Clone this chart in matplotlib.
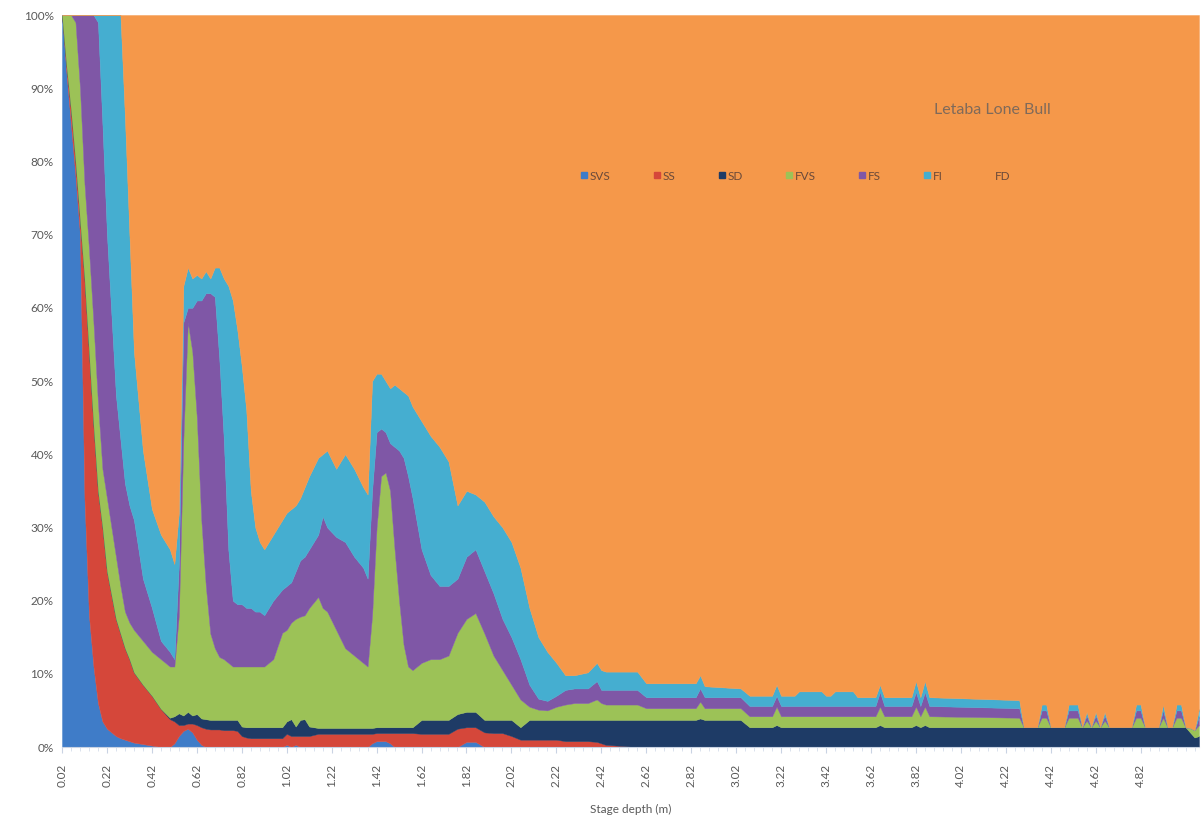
import matplotlib
matplotlib.use("Agg")
import matplotlib.pyplot as plt
from matplotlib.lines import Line2D
import numpy as np

plt.rcParams['font.family'] = ['Lato', 'DejaVu Sans']

# stage depth (m) of each sample
depth = [
    0.02, 0.04, 0.06, 0.08, 0.10, 0.12, 0.14, 0.16, 0.18, 0.20, 0.22, 0.26, 0.28, 0.30, 0.32, 0.34, 0.38, 0.42, 0.46, 0.50, 0.52,
    0.54, 0.56, 0.58, 0.60, 0.62, 0.64, 0.66, 0.68, 0.70, 0.72, 0.74, 0.76, 0.78, 0.80, 0.82, 0.84, 0.86, 0.88, 0.90, 0.92,
    0.96, 1.00, 1.02, 1.04, 1.06, 1.08, 1.10, 1.12, 1.16, 1.18, 1.20, 1.24, 1.28, 1.32, 1.36, 1.38,
    1.40, 1.42, 1.44, 1.46, 1.48, 1.50, 1.52, 1.54, 1.56, 1.58, 1.62, 1.66, 1.70, 1.74, 1.78, 1.82, 1.86, 1.90, 1.94, 1.98,
    2.02, 2.06, 2.10, 2.14, 2.18, 2.22, 2.26, 2.30, 2.36, 2.40, 2.42,
    2.44, 2.58, 2.62, 2.84, 2.86, 2.88, 3.04, 3.08, 3.18, 3.20, 3.22, 3.28, 3.30, 3.40, 3.42, 3.44, 3.46, 3.54, 3.56, 3.64,
    3.66, 3.68, 3.80, 3.82, 3.84, 3.86, 3.88, 4.28, 4.30, 4.36, 4.38, 4.40, 4.42, 4.48, 4.50, 4.52, 4.54, 4.56, 4.58, 4.60,
    4.62, 4.64, 4.66, 4.68, 4.78, 4.80, 4.82, 4.84, 4.90, 4.92, 4.94, 4.96, 4.98, 5.00, 5.02, 5.04, 5.06, 5.08,
]

svs = [
    100, 92, 85, 78, 70, 34, 18, 11, 6, 3.5, 2.5, 1.5, 1.2, 1, 0.8, 0.6, 0.4, 0.2, 0, 0, 0.5,
    1.5, 2.2, 2.5, 2, 1, 0.3, 0, 0, 0, 0, 0, 0, 0, 0, 0, 0, 0, 0, 0, 0,
    0, 0, 0.3, 0, 0.3, 0, 0, 0, 0, 0, 0, 0, 0, 0, 0, 0,
    0.5, 0.8, 0.8, 0.8, 0.5, 0, 0, 0, 0, 0, 0, 0, 0, 0, 0, 0.7, 0.7, 0, 0, 0,
    0, 0, 0, 0, 0, 0, 0, 0, 0, 0, 0,
    0, 0, 0, 0, 0, 0, 0, 0, 0, 0, 0, 0, 0, 0, 0, 0, 0, 0, 0, 0,
    0, 0, 0, 0, 0, 0, 0, 0, 0, 0, 0, 0, 0, 0, 0, 0, 0, 0, 0, 0,
    0, 0, 0, 0, 0, 0, 0, 0, 0, 0, 0, 0, 0, 0, 0, 0, 0, 0,
]

ss = [
    0, 1, 2, 2, 2, 30, 36, 33, 29, 26.5, 21.5, 16, 14.3, 12.5, 11.2, 9.6, 8.1, 6.8, 5.2, 3.8, 3,
    1.5, 0.8, 0.7, 1.2, 2, 2.4, 2.5, 2.4, 2.4, 2.4, 2.3, 2.3, 2.3, 2.2, 1.5, 1.3, 1.2, 1.2, 1.2, 1.2,
    1.2, 1.2, 1.5, 1.5, 1.2, 1.5, 1.5, 1.5, 1.8, 1.8, 1.8, 1.8, 1.8, 1.8, 1.8, 1.8,
    1.3, 1.1, 1.1, 1.1, 1.4, 1.9, 1.9, 1.9, 1.9, 1.9, 1.8, 1.8, 1.8, 1.8, 2.5, 2, 2, 2, 1.9, 1.9,
    1.5, 1, 1, 1, 1, 1, 0.8, 0.8, 0.8, 0.7, 0.5,
    0.3, 0, 0, 0, 0, 0, 0, 0, 0, 0, 0, 0, 0, 0, 0, 0, 0, 0, 0, 0,
    0, 0, 0, 0, 0, 0, 0, 0, 0, 0, 0, 0, 0, 0, 0, 0, 0, 0, 0, 0,
    0, 0, 0, 0, 0, 0, 0, 0, 0, 0, 0, 0, 0, 0, 0, 0, 0, 0,
]

sd = [
    0, 0, 0, 0, 0, 0, 0, 0, 0, 0, 0, 0, 0, 0, 0, 0, 0, 0, 0, 0.2, 0.7,
    1.6, 1.3, 1.6, 1.1, 1.5, 1.2, 1.3, 1.3, 1.3, 1.3, 1.4, 1.4, 1.4, 1.5, 1.3, 1.4, 1.5, 1.5, 1.5, 1.5,
    1.5, 1.5, 1.7, 2.3, 1.3, 2.2, 2.3, 1.3, 0.8, 0.8, 0.8, 0.8, 0.8, 0.8, 0.8, 0.8,
    0.8, 0.8, 0.8, 0.8, 0.8, 0.8, 0.8, 0.8, 0.8, 0.8, 1.9, 1.9, 1.9, 1.9, 2, 2.1, 2.1, 1.7, 1.8, 1.8,
    2.2, 1.7, 2.7, 2.7, 2.7, 2.7, 2.9, 2.9, 2.9, 3, 3.2,
    3.4, 3.7, 3.7, 3.7, 3.9, 3.7, 3.7, 2.7, 2.7, 3, 2.7, 2.7, 2.7, 2.7, 2.7, 2.7, 2.7, 2.7, 2.7, 2.7,
    3, 2.7, 2.7, 3, 2.7, 3, 2.7, 2.7, 2.7, 2.7, 2.7, 2.7, 2.7, 2.7, 2.7, 2.7, 2.7, 2.7, 2.7, 2.7,
    2.7, 2.7, 2.7, 2.7, 2.7, 2.7, 2.7, 2.7, 2.7, 2.7, 2.7, 2.7, 2.7, 2.7, 2.7, 2, 1.3, 1.5,
]

fvs = [
    0, 7, 13, 19, 18, 13, 14, 14, 12, 8, 10, 8.5, 6.5, 5, 5, 5.8, 6, 6, 6.8, 7, 6.8,
    13.4, 37.7, 53.2, 49.7, 40.5, 27.1, 18.2, 11.8, 9.8, 8.6, 8.3, 7.8, 7.3, 7.3, 8.2, 8.3, 8.3, 8.3, 8.3, 8.3,
    9.3, 12.9, 12.5, 13.2, 14.7, 14.1, 14.2, 16.2, 17.9, 16.4, 15.9, 13.4, 10.9, 9.9, 8.9, 8.4,
    15.4, 27.3, 34.3, 34.8, 32.3, 24.3, 17.3, 11.3, 8.3, 7.8, 7.8, 8.3, 8.3, 8.8, 11.1, 12.7, 13.5, 11.8, 8.8, 6.8,
    4.8, 3.8, 1.8, 1.4, 1.3, 1.8, 2.1, 2.3, 2.3, 2.8, 2.3,
    2.1, 2.1, 1.6, 1.6, 2.3, 1.6, 1.6, 1.5, 1.5, 2.5, 1.5, 1.5, 1.5, 1.5, 1.5, 1.5, 1.5, 1.5, 1.5, 1.5,
    2.5, 1.5, 1.5, 2.5, 1.5, 2.5, 1.5, 1.3, 0, 0, 1.3, 1.3, 0, 0, 1.3, 1.3, 1.3, 0, 0.9, 0,
    0.9, 0, 0.9, 0, 0, 1.3, 1.3, 0, 0, 1.3, 0, 0, 1.3, 1.3, 0, 0.6, 1, 1.5,
]

fs = [
    0, 0, 0, 1, 10, 23, 32, 42, 52, 47, 36, 22, 20, 17.5, 16, 15, 8.5, 6, 2.5, 2, 1,
    7, 16, 2, 6, 16, 30, 40, 46.5, 48, 40.7, 30, 15.5, 9, 8.5, 8.5, 8, 8, 7.5, 7.5, 7,
    8, 5.9, 6, 5.5, 6.5, 7.7, 8, 8, 8.5, 12.5, 11.5, 12.7, 14.5, 13.5, 13, 12,
    17, 13, 6.5, 5.5, 6.5, 14, 20.5, 25.5, 26, 23.5, 15.5, 11.5, 10, 9.5, 7.4, 8.5, 8.7, 8.5, 8.5, 7,
    6.5, 5.5, 3, 1.5, 1.3, 1.5, 2, 2, 2, 2.5, 1.8,
    2, 2, 1.5, 1.5, 1.8, 1.5, 1.5, 1.4, 1.4, 1.5, 1.4, 1.4, 1.4, 1.4, 1.4, 1.4, 1.4, 1.4, 1.4, 1.4,
    2, 1.4, 1.4, 2, 1.4, 2, 1.4, 1.3, 0, 0, 1, 1, 0, 0, 1, 1, 1, 0, 0.7, 0,
    0.7, 0, 0.7, 0, 0, 1, 1, 0, 0, 1, 0, 0, 1, 1, 0, 0, 0, 1.2,
]

fi = [
    0, 0, 0, 0, 0, 0, 0, 0, 1, 15, 30, 52, 58, 50, 37, 23, 17.5, 13.5, 14.5, 14, 13,
    7, 5, 5.5, 4, 3.5, 3, 3, 2, 4, 12.5, 22, 36, 41, 37.5, 32.5, 27, 16, 11.5, 9.5, 9,
    9, 9.5, 10, 10, 9, 8.5, 9.5, 10, 10.5, 8.5, 10.5, 9.3, 12, 12, 11, 11.5,
    15, 8, 7.5, 7, 7.5, 8.5, 8.5, 9, 11, 12.5, 17.5, 19, 19, 17, 10, 9, 7.5, 9.5, 10.5, 12.5,
    13, 12.5, 10.5, 8.4, 6.7, 4.5, 2, 1.8, 2.2, 2.5, 2.7,
    2.5, 2.5, 1.9, 1.9, 1.8, 1.5, 1.2, 1.4, 1.4, 1.5, 1.4, 1.4, 2, 2, 1.4, 1.4, 2, 2, 1.2, 1.2,
    1, 1.2, 1.2, 1.5, 1.2, 1.5, 1.2, 1.1, 0, 0, 0.8, 0.8, 0, 0, 0.8, 0.8, 0.8, 0, 0.5, 0,
    0.5, 0, 0.5, 0, 0, 0.8, 0.8, 0, 0, 0.8, 0, 0, 0.8, 0.8, 0, 0, 0, 1,
]

fd = [
    0, 0, 0, 0, 0, 0, 0, 0, 0, 0, 0, 0, 0, 14, 30, 46, 59.5, 67.5, 71, 73, 75,
    68, 37, 34.5, 36, 35.5, 36, 35, 36, 34.5, 34.5, 36, 37, 39, 43, 48, 54, 65, 70, 72, 73,
    71, 69, 68, 67.5, 67, 66, 64.5, 63, 60.5, 60, 59.5, 62, 60, 62, 64.5, 65.5,
    50, 49, 49, 50, 51, 50.5, 51, 51.5, 52, 53.5, 55.5, 57.5, 59, 61, 67, 65, 65.5, 66.5, 68.5, 70,
    72, 75.5, 81, 85, 87, 88.5, 90.2, 90.2, 89.8, 88.5, 89.5,
    89.7, 89.7, 91.3, 91.3, 90.2, 91.7, 92, 93, 93, 91.5, 93, 93, 92.4, 92.4, 93, 93, 92.4, 92.4, 93.2, 93.2,
    91.5, 93.2, 93.2, 91, 93.2, 91, 93.2, 93.6, 97.3, 97.3, 94.2, 94.2, 97.3, 97.3, 94.2, 94.2, 94.2, 97.3, 95.2, 97.3,
    95.2, 97.3, 95.2, 97.3, 97.3, 94.2, 94.2, 97.3, 97.3, 94.2, 97.3, 97.3, 94.2, 94.2, 97.3, 97.4, 97.7, 94.8,
]

labels = ["SVS", "SS", "SD", "FVS", "FS", "FI", "FD"]
colors = ["#3F7CC8", "#D5473A", "#1E3B66", "#9CC257", "#7F57A6", "#45AED0", "#F5984A"]

x = np.array(depth)
data = np.array([svs, ss, sd, fvs, fs, fi, fd], dtype=float)
pct = data / data.sum(axis=0) * 100

fig = plt.figure(figsize=(12.01, 8.21), dpi=100)
ax = fig.add_axes([62 / 1201, 1 - 747 / 821, 1137 / 1201, 732 / 821])

polys = ax.stackplot(x, pct, colors=colors, labels=labels, linewidth=0.3)
for p, c in zip(polys, colors):
    p.set_edgecolor(c)

ax.set_xlim(0.02, 5.08)
ax.set_ylim(0, 100)

ax.set_yticks(np.arange(0, 101, 10))
ax.set_yticklabels([f"{v}%" for v in range(0, 101, 10)])
xt = np.round(np.arange(0.02, 4.83, 0.2), 2)
ax.set_xticks(xt)
ax.set_xticklabels([f"{v:.2f}" for v in xt], rotation=90)
ax.set_xticks(np.arange(0.02, 5.09, 0.04), minor=True)

ax.tick_params(axis='y', length=0, pad=6, labelsize=8.5, labelcolor='#595959')
ax.tick_params(axis='x', which='major', length=4, color='#C9D3E3', pad=8,
               labelsize=8.5, labelcolor='#595959')
ax.tick_params(axis='x', which='minor', length=3, color='#D5DDEA')

for s in ['top', 'right', 'left']:
    ax.spines[s].set_visible(False)
ax.spines['bottom'].set_color('#C9D3E3')

ax.set_xlabel("Stage depth (m)", fontsize=8.5, color='#595959', labelpad=12)

ax.text(0.818, 0.87, "Letaba Lone Bull", transform=ax.transAxes,
        ha='center', va='center', fontsize=11.5, color='#7F6A5A')

handles = [Line2D([], [], marker='s', linestyle='none', markersize=4.5,
                  markerfacecolor=c, markeredgecolor=c) for c in colors]
ax.legend(handles, labels, ncol=7, loc='center', bbox_to_anchor=(0.645, 0.78),
          frameon=False, fontsize=8.5, handlelength=0.6, handletextpad=0.2,
          columnspacing=3.6, labelcolor='#6B4A3A')

fig.savefig("out.png", dpi=100)
